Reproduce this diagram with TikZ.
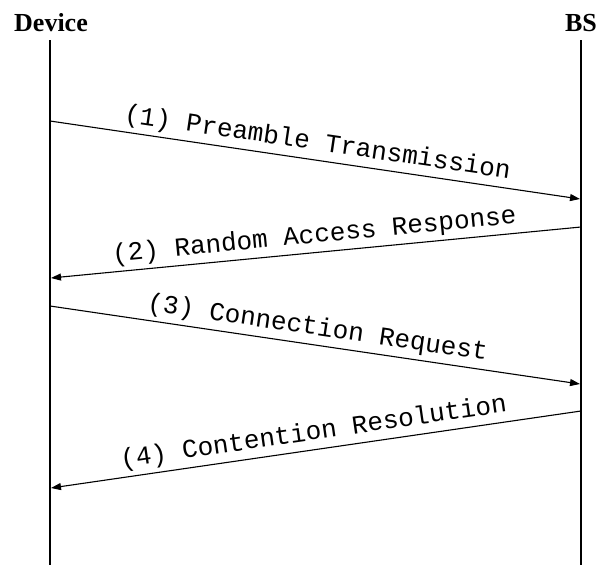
\documentclass[tikz,border=0pt]{standalone}
\usepackage{fontspec}
\setmainfont{Liberation Serif}
\newfontfamily\msgfont{Liberation Mono}
\usetikzlibrary{arrows.meta}
\tikzset{
  actor/.style={font=\fontsize{26}{30}\selectfont\bfseries, inner sep=0pt, anchor=base},
  lifeline/.style={line width=2pt},
  msg/.style={line width=1.1pt, -{Triangle[length=10pt,width=7pt]}},
  msglabel/.style={font=\fontsize{26}{30}\selectfont\msgfont, sloped, above, inner sep=4pt, midway}
}
\begin{document}
\begin{tikzpicture}[x=1pt,y=-1pt]
  \useasboundingbox (0,0) rectangle (605,565);
  % participants
  \node[actor] (dev) at (51,31) {Device};
  \node[actor] (bs) at (581,31) {BS};
  \coordinate (devtop) at (50,40);
  \coordinate (devbot) at (50,565);
  \coordinate (bstop) at (581,40);
  \coordinate (bsbot) at (581,565);
  \draw[lifeline] (devtop) -- (devbot);
  \draw[lifeline] (bstop) -- (bsbot);
  % message end points on the lifelines
  \coordinate (d1) at (50,121);
  \coordinate (b1) at (580,199);
  \coordinate (b2) at (581,227);
  \coordinate (d2) at (51,278);
  \coordinate (d3) at (50,306);
  \coordinate (b3) at (580,384);
  \coordinate (b4) at (581,411);
  \coordinate (d4) at (51,488);
  % messages
  \draw[msg] (d1) -- node[msglabel] {(1) Preamble Transmission} (b1);
  \draw[msg] (b2) -- node[msglabel] {(2) Random Access Response} (d2);
  \draw[msg] (d3) -- node[msglabel] {(3) Connection Request} (b3);
  \draw[msg] (b4) -- node[msglabel] {(4) Contention Resolution} (d4);
\end{tikzpicture}
\end{document}
